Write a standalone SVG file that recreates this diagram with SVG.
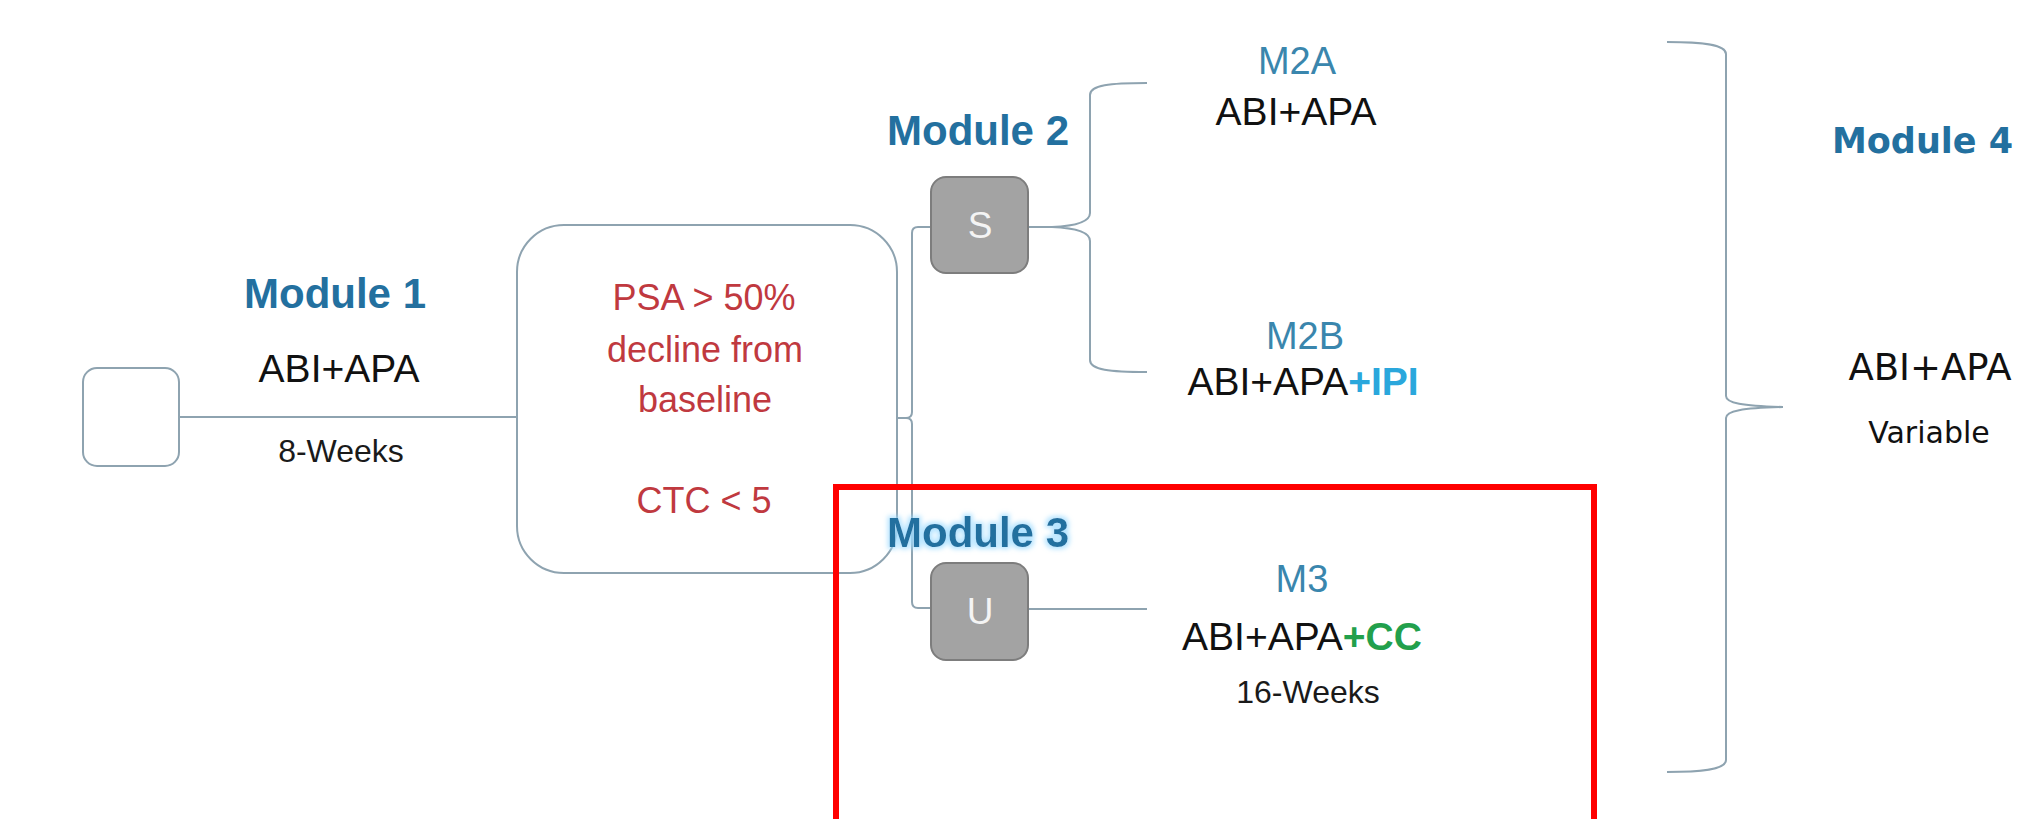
<svg xmlns="http://www.w3.org/2000/svg" width="2017" height="819" viewBox="0 0 2017 819">
<style>
.bg{fill:#ffffff}
.ln{fill:none;stroke:#8ea3b0;stroke-width:2}
.box{fill:#ffffff;stroke:#8ea3b0;stroke-width:2}
.gbox{fill:#a3a3a3;stroke:#7d7d7d;stroke-width:2}
.mod{font-family:"Liberation Sans",Arial,sans-serif;font-weight:bold;font-size:42px;fill:#23709f;text-anchor:middle}
.drug{font-family:"Liberation Sans",Arial,sans-serif;font-size:39px;fill:#111111;text-anchor:middle}
.lab{font-family:"Liberation Sans",Arial,sans-serif;font-size:38px;fill:#3a86ad;text-anchor:middle}
.wk{font-family:"Liberation Sans",Arial,sans-serif;font-size:32px;fill:#1a1a1a;text-anchor:middle}
.crit{font-family:"Liberation Sans",Arial,sans-serif;font-size:36px;fill:#c0393f;text-anchor:middle}
.let{font-family:"Liberation Sans",Arial,sans-serif;font-size:37px;fill:#f4f4f4;text-anchor:middle}
.ipi{fill:#2aa7dc;font-weight:bold}
.cc{fill:#22a04c;font-weight:bold}
.m4{font-family:"DejaVu Sans",Verdana,sans-serif;font-weight:bold;font-size:35px;fill:#23709f}
.dv{font-family:"DejaVu Sans",Verdana,sans-serif;fill:#111111;text-anchor:middle}
.hl{fill:none;stroke:#ff0000;stroke-width:6}
</style>
<defs>
  <filter id="glow" x="-10%" y="-30%" width="120%" height="160%">
    <feMorphology in="SourceAlpha" operator="dilate" radius="2" result="d"/>
    <feGaussianBlur in="d" stdDeviation="2.5" result="b"/>
    <feFlood flood-color="#9fdcff" flood-opacity="0.8"/>
    <feComposite in2="b" operator="in" result="g"/>
    <feMerge><feMergeNode in="g"/><feMergeNode in="SourceGraphic"/></feMerge>
  </filter>
</defs>
<rect class="bg" x="0" y="0" width="2017" height="819"/>

<g id="connectors">
  <line class="ln" x1="179" y1="417" x2="517" y2="417"/>
  <path class="ln" d="M897,418 L906,418 Q912,418 912,412 L912,233 Q912,227 918,227 L931,227"/>
  <path class="ln" d="M906,418 Q912,418 912,424 L912,602 Q912,608 918,608 L931,608"/>
  <line class="ln" x1="1028" y1="227" x2="1052" y2="227"/>
  <path class="ln" d="M1147,83 C1110,83 1090,85 1090,95 L1090,213 C1090,222 1076,226 1052,227 C1076,228 1090,232 1090,241 L1090,360 C1090,370 1110,372 1147,372"/>
  <line class="ln" x1="1028" y1="609" x2="1147" y2="609"/>
  <path class="ln" d="M1667,42 C1700,42 1726,44 1726,54 L1726,396 C1726,403 1742,406 1783,407 C1742,408 1726,411 1726,418 L1726,760 C1726,770 1700,772 1667,772"/>
</g>

<g id="start">
  <rect class="box" x="83" y="368" width="96" height="98" rx="14"/>
</g>

<g id="module1">
  <text class="mod" x="335" y="308">Module 1</text>
  <text class="drug" x="339" y="382">ABI+APA</text>
  <text class="wk" x="341" y="462">8-Weeks</text>
</g>

<g id="criteria">
  <rect class="box" x="517" y="225" width="380" height="348" rx="47"/>
  <text class="crit" x="704" y="310">PSA &gt; 50%</text>
  <text class="crit" x="705" y="362">decline from</text>
  <text class="crit" x="705" y="412">baseline</text>
  <text class="crit" x="704" y="513">CTC &lt; 5</text>
</g>

<g id="module2">
  <text class="mod" x="978" y="145">Module 2</text>
  <rect class="gbox" x="931" y="177" width="97" height="96" rx="15"/>
  <text class="let" x="980" y="238">S</text>
</g>

<g id="module3">
  <text class="mod" x="978" y="547" filter="url(#glow)">Module 3</text>
  <rect class="gbox" x="931" y="563" width="97" height="97" rx="15"/>
  <text class="let" x="980" y="624">U</text>
</g>

<g id="m2a">
  <text class="lab" x="1297" y="74">M2A</text>
  <text class="drug" x="1296" y="125">ABI+APA</text>
</g>

<g id="m2b">
  <text class="lab" x="1305" y="349">M2B</text>
  <text class="drug" x="1303" y="395">ABI+APA<tspan class="ipi">+IPI</tspan></text>
</g>

<g id="m3">
  <text class="lab" x="1302" y="592">M3</text>
  <text class="drug" x="1302" y="650">ABI+APA<tspan class="cc">+CC</tspan></text>
  <text class="wk" x="1308" y="703">16-Weeks</text>
</g>

<g id="module4">
  <text class="m4" x="1832" y="153">Module 4</text>
  <text class="dv" x="1930" y="380" font-size="37">ABI+APA</text>
  <text class="dv" x="1929" y="443" font-size="30">Variable</text>
</g>

<g id="highlight">
  <rect class="hl" x="836" y="487" width="758" height="350"/>
</g>
</svg>
